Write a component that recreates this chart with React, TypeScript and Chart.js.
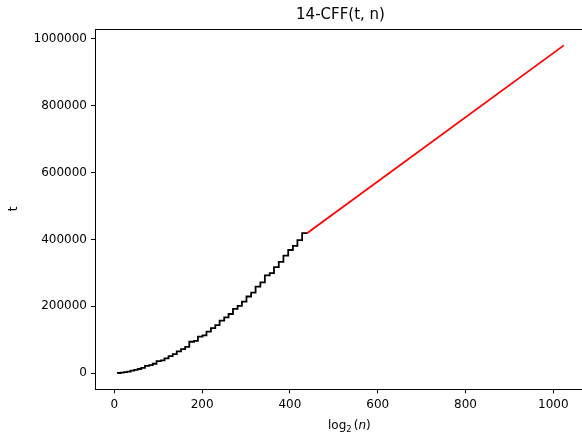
import React, { useEffect, useRef } from "react";
import { Chart, registerables } from "chart.js";

Chart.register(...registerables);

// Black staircase series: log2(n) vs t
const stairX = [7, 8, 14.57, 21.71, 29.41, 36.9, 45.33, 53.27, 61.38, 69.89, 79.41, 87.54, 96.21, 106.08, 114.33, 123.54, 133.05, 142.22, 152, 161.43, 170.81, 181.77, 190.46, 200.9, 209.93, 220.06, 230.04, 239.85, 250.36, 260.28, 270.26, 280.9, 290.73, 301.07, 311.64, 321.8, 332.67, 342.95, 354.08, 363.8, 374.62, 385.22, 396.12, 406.82, 417.11, 427.85, 438.89];
const stairT = [256, 256, 841, 1849, 3481, 5041, 7921, 10201, 12769, 16129, 22201, 24649, 28561, 36481, 38809, 44521, 51529, 57121, 65536, 72361, 78961, 94249, 96721, 109561, 113569, 124609, 134689, 143641, 157609, 167281, 177241, 192721, 201601, 214369, 229441, 241081, 259081, 271441, 292681, 299209, 316969, 332929, 351649, 368449, 380689, 398161, 418609];

// Red linear series
const lineX = [438.89, 1024];
const lineT = [418609, 980000];

const xTicks = [0, 200, 400, 600, 800, 1000];
const yTicks = [0, 200000, 400000, 600000, 800000, 1000000];

const FONT = "'DejaVu Sans', sans-serif";

const decorPlugin = {
  id: "decor",
  afterDraw(chart: any) {
    const { ctx, chartArea } = chart;
    ctx.save();
    // frame (top line; right spine is outside the canvas)
    ctx.strokeStyle = "#000";
    ctx.lineWidth = 1;
    ctx.beginPath();
    ctx.moveTo(chartArea.left, chartArea.top + 0.5);
    ctx.lineTo(chartArea.right + 10, chartArea.top + 0.5);
    ctx.stroke();

    ctx.fillStyle = "#000";
    // title
    ctx.font = `15px ${FONT}`;
    ctx.textAlign = "center";
    ctx.textBaseline = "middle";
    ctx.fillText("14-CFF(t, n)", 340.5, 15);

    // y label
    ctx.save();
    ctx.translate(14, 209);
    ctx.rotate(-Math.PI / 2);
    ctx.font = `12px ${FONT}`;
    ctx.textAlign = "center";
    ctx.textBaseline = "middle";
    ctx.fillText("t", 0, 0);
    ctx.restore();

    // x label: log_2 (n)
    ctx.textAlign = "left";
    ctx.textBaseline = "alphabetic";
    const base = 429;
    let x = 328;
    ctx.font = `12px ${FONT}`;
    ctx.fillText("log", x, base);
    x += ctx.measureText("log").width;
    ctx.font = `8.5px ${FONT}`;
    ctx.fillText("2", x, base + 3);
    x += ctx.measureText("2").width + 2;
    ctx.font = `12px ${FONT}`;
    ctx.fillText("(", x, base);
    x += ctx.measureText("(").width;
    ctx.font = `oblique 12px ${FONT}`;
    ctx.fillText("n", x, base);
    x += ctx.measureText("n").width;
    ctx.font = `12px ${FONT}`;
    ctx.fillText(")", x, base);
    ctx.restore();
  },
};

export default function App() {
  const ref = useRef<HTMLCanvasElement | null>(null);
  useEffect(() => {
    document.body.style.margin = "0";
    document.body.style.overflow = "hidden";
    const canvas = ref.current!;
    const chart = new Chart(canvas, {
      type: "line",
      data: {
        datasets: [
          {
            data: stairX.map((x, i) => ({ x, y: stairT[i] })),
            borderColor: "#000000",
            borderWidth: 1.8,
            pointRadius: 0,
            stepped: "after",
            fill: false,
          },
          {
            data: lineX.map((x, i) => ({ x, y: lineT[i] })),
            borderColor: "#ff0000",
            borderWidth: 1.8,
            pointRadius: 0,
            fill: false,
          },
        ],
      },
      plugins: [decorPlugin],
      options: {
        responsive: false,
        animation: false,
        events: [],
        layout: { padding: { top: 29, left: 0, right: 0, bottom: 0 } },
        plugins: {
          legend: { display: false },
          tooltip: { enabled: false },
          title: { display: false },
        },
        scales: {
          x: {
            type: "linear",
            min: -44,
            max: 1065.4,
            afterBuildTicks: (s: any) => {
              s.ticks = xTicks.map((v) => ({ value: v }));
            },
            afterFit: (s: any) => {
              s.height = 50.7;
            },
            grid: {
              drawOnChartArea: false,
              drawTicks: true,
              tickLength: 4,
              color: "#000",
            },
            border: { display: true, color: "#000", width: 1 },
            ticks: {
              color: "#000",
              padding: 4,
              maxRotation: 0,
              autoSkip: false,
              font: { family: FONT, size: 12 },
              callback: (v: any) => String(v),
            },
          },
          y: {
            type: "linear",
            min: -47860,
            max: 1028900,
            afterBuildTicks: (s: any) => {
              s.ticks = yTicks.map((v) => ({ value: v }));
            },
            afterFit: (s: any) => {
              s.width = 95;
            },
            grid: {
              drawOnChartArea: false,
              drawTicks: true,
              tickLength: 4,
              color: "#000",
            },
            border: { display: true, color: "#000", width: 1 },
            ticks: {
              color: "#000",
              padding: 4,
              autoSkip: false,
              font: { family: FONT, size: 12 },
              callback: (v: any) => String(v),
            },
          },
        },
      },
    });
    return () => chart.destroy();
  }, []);
  return (
    <div style={{ position: "absolute", left: 0, top: 0, width: 582, height: 440, background: "#fff" }}>
      <canvas ref={ref} width={582} height={440} style={{ display: "block" }} />
    </div>
  );
}
